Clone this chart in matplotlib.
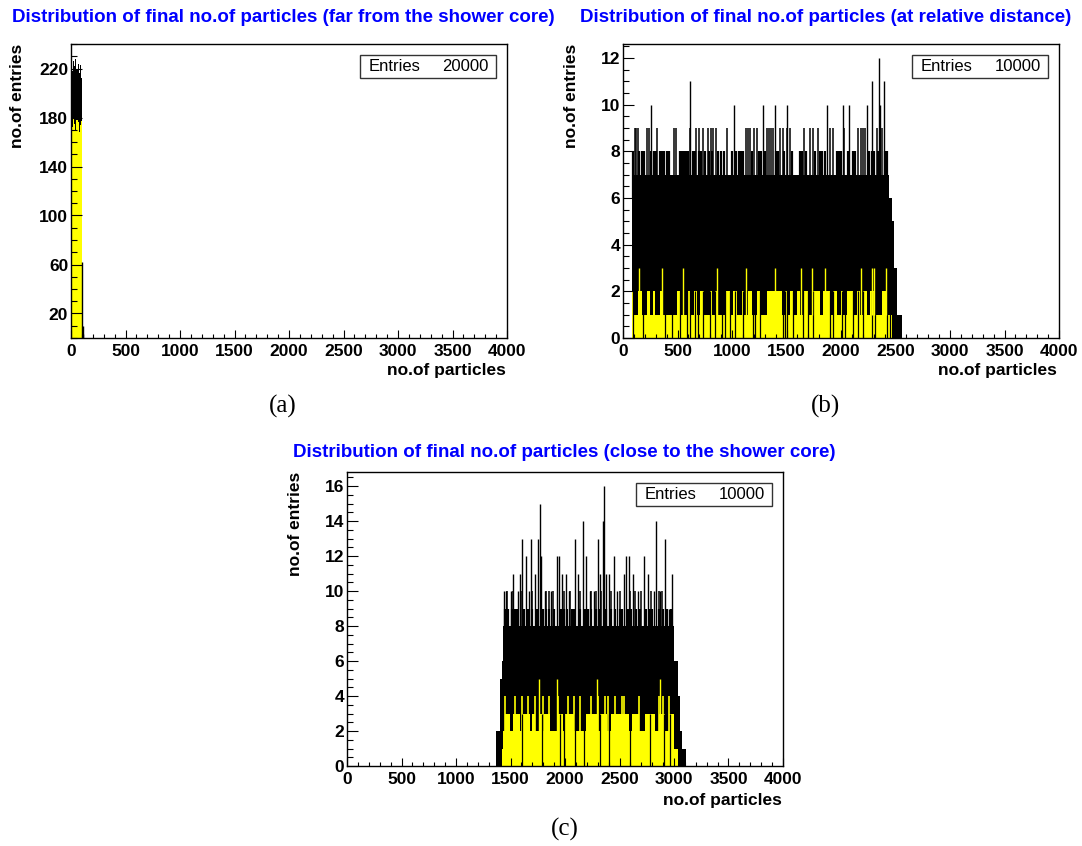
import matplotlib
matplotlib.use('Agg')
import matplotlib.pyplot as plt
from matplotlib.ticker import MultipleLocator, FixedLocator
from matplotlib.patches import Rectangle

plt.rcParams['font.family'] = ['Liberation Sans', 'DejaVu Sans']

YELLOW = '#ffff00'
BLUE = '#0000ff'

titles = ['Distribution of final no.of particles (far from the shower core)',
          'Distribution of final no.of particles (at relative distance)',
          'Distribution of final no.of particles (close to the shower core)']
letters = ['(a)', '(b)', '(c)']
entries = [20000, 10000, 10000]

# ---- panel (a): far from the shower core (bin groups, lower / upper envelope)
a_edges = [0, 10, 20, 30, 40, 50, 60, 70, 80, 90, 98]
a_lo = [178, 172, 180, 175, 170, 178, 176, 168, 174, 177]
a_hi = [225, 218, 226, 222, 228, 220, 224, 216, 223, 212]
a_tail_x = [100, 106, 112]
a_tail_h = [62, 10, 3]

# ---- panel (b): at relative distance
b_edges = [80, 180, 280, 380, 480, 580, 680, 780, 880, 980, 1080, 1180, 1280,
           1380, 1480, 1580, 1680, 1780, 1880, 1980, 2080, 2180, 2280, 2380,
           2440, 2470, 2490, 2510, 2560]
b_lo = [1, 1, 1, 1, 1, 1, 1, 1, 1, 1, 1, 1, 1, 1, 1, 1, 1, 1, 1, 1, 1, 1, 1, 1,
        1, 0, 0, 0]
b_hi = [7, 7, 7, 7, 7, 7, 7, 7, 7, 7, 7, 7, 7, 7, 7, 7, 7, 7, 7, 7, 7, 7, 7, 7,
        6, 5, 3, 1]
b8_x = [95, 150, 170, 190, 260, 280, 300, 340, 360, 380, 400, 420, 520, 540,
        560, 580, 600, 640, 660, 700, 720, 750, 790, 820, 870, 900, 930, 1000,
        1040, 1060, 1080, 1100, 1180, 1250, 1270, 1300, 1400, 1420, 1480, 1550,
        1620, 1640, 1680, 1760, 1810, 1830, 1850, 1960, 1980, 2000, 2060, 2110,
        2130, 2260, 2280, 2300, 2340, 2400, 2420]
b9_x = [107, 122, 134, 220, 241, 315, 468, 488, 611, 672, 699, 733, 780, 809,
        830, 849, 957, 1130, 1150, 1166, 1203, 1227, 1319, 1343, 1362, 1380,
        1441, 1465, 1500, 1530, 1661, 1716, 1740, 1792, 1900, 1930, 2030, 2158,
        2183, 2204, 2220, 2326, 2375]
b_peak_x = [254, 615, 1014, 1282, 1390, 1508, 1875, 2020, 2075, 2236, 2285,
            2349, 2362, 2392]
b_peak_h = [10, 11, 10, 10, 10, 10, 10, 10, 10, 10, 11, 12, 10, 11]
b_y2_start = [82, 137, 220, 275, 342, 495, 592, 647, 708, 794, 846, 946, 1007,
              1090, 1151, 1227, 1319, 1487, 1533, 1594, 1661, 1746, 1838, 1929,
              1997, 2052, 2143, 2204, 2265, 2372]
b_y2_end = [98, 174, 250, 290, 360, 525, 617, 678, 739, 815, 876, 983, 1044,
            1111, 1181, 1258, 1456, 1502, 1563, 1624, 1701, 1807, 1899, 1960,
            2021, 2113, 2174, 2235, 2311, 2418]
b_y3_x = [150, 360, 553, 860, 1125, 1394, 1633, 1734, 1850, 2182, 2285, 2305,
          2412]
b_zero_x = [95, 187, 385, 446, 523, 590, 615, 660, 691, 737, 798, 844, 905,
            936, 982, 1027, 1104, 1190, 1211, 1257, 1471, 1489, 1501, 1563,
            1654, 1700, 1746, 1899, 1930, 2006, 2037, 2113, 2159, 2205, 2281,
            2312, 2419, 2450]

# ---- panel (c): close to the shower core
c_edges = [1370, 1405, 1420, 1432, 1500, 1600, 1700, 1800, 1900, 2000, 2100,
           2200, 2300, 2400, 2500, 2600, 2700, 2800, 2900, 2960, 3000, 3025,
           3040, 3055, 3070, 3113]
c_lo = [0, 0, 1, 2, 2, 2, 2, 2, 2, 2, 2, 2, 2, 2, 2, 2, 2, 2, 2, 2, 1, 1, 0, 0, 0]
c_hi = [2, 5, 6, 8, 8, 8, 8, 8, 8, 8, 8, 8, 8, 8, 8, 8, 8, 8, 8, 8, 6, 6, 4, 2, 1]
c9_x = [1450, 1480, 1510, 1540, 1560, 1620, 1660, 1700, 1740, 1800, 1830, 1850,
        1900, 1960, 1990, 2020, 2060, 2080, 2140, 2180, 2210, 2240, 2280, 2310,
        2380, 2420, 2460, 2500, 2520, 2580, 2610, 2650, 2690, 2740, 2780, 2800,
        2860, 2900, 2940, 2970]
c10_x = [1470, 1520, 1610, 1700, 1830, 1855, 1890, 1990, 2050, 2140, 2240,
         2280, 2330, 2420, 2500, 2600, 2640, 2700, 2790, 2860, 2890]
c_peak_x = [1442, 1457, 1500, 1527, 1567, 1589, 1604, 1644, 1671, 1690, 1723,
            1748, 1772, 1781, 1818, 1876, 1925, 1944, 1968, 2005, 2039, 2094,
            2118, 2161, 2195, 2226, 2262, 2302, 2323, 2348, 2354, 2372, 2400,
            2446, 2476, 2541, 2562, 2590, 2623, 2672, 2721, 2764, 2813, 2838,
            2874, 2914, 2951, 2981, 3032]
c_peak_h = [10, 10, 10, 11, 10, 11, 13, 12, 10, 13, 11, 13, 15, 12, 10, 10, 12,
            12, 11, 11, 10, 13, 11, 14, 12, 10, 10, 13, 11, 14, 16, 11, 11, 12,
            10, 11, 12, 12, 11, 10, 12, 11, 10, 14, 10, 13, 9, 11, 7]
c_y3_start = [1450, 1525, 1610, 1700, 1760, 1810, 1925, 2002, 2190, 2323, 2420,
              2614, 2737, 2859, 2951]
c_y3_end = [1500, 1590, 1680, 1726, 1800, 1864, 1986, 2078, 2293, 2385, 2584,
            2675, 2828, 2920, 2997]
c_y4_x = [1451, 1545, 1603, 1658, 1723, 1800, 1855, 1937, 2023, 2081, 2136,
          2234, 2305, 2366, 2397, 2458, 2520, 2545, 2680, 2860, 2900, 2950]
c_y5_x = [1760, 1925, 2293, 2874]
c_zero_x = [1604, 1790, 1956, 1987, 2094, 2170, 2323, 2400, 2598, 2782, 2904,
            2966]

W, H = 1082, 846
fig = plt.figure(figsize=(W / 100, H / 100), dpi=100)


def px_axes(left, top, right, bottom):
    return fig.add_axes([left / W, 1 - bottom / H, (right - left) / W,
                         (bottom - top) / H])


def style(ax, ymax, yticks, yminor, n):
    ax.set_xlim(0, 4000)
    ax.set_ylim(0, ymax)
    ax.xaxis.set_major_locator(MultipleLocator(500))
    ax.xaxis.set_minor_locator(MultipleLocator(100))
    ax.yaxis.set_major_locator(FixedLocator(yticks))
    ax.yaxis.set_minor_locator(MultipleLocator(yminor))
    ax.tick_params(axis='x', which='major', direction='in', length=6, width=0.8,
                   labelsize=12.5, pad=4, top=False)
    ax.tick_params(axis='x', which='minor', direction='in', length=3, width=0.8,
                   top=False)
    ax.tick_params(axis='y', which='major', direction='in', length=8, width=0.8,
                   labelsize=12.5, pad=2, right=False)
    ax.tick_params(axis='y', which='minor', direction='in', length=4, width=0.8,
                   right=False)
    for lab in ax.get_xticklabels() + ax.get_yticklabels():
        lab.set_fontweight('bold')
    for sp in ax.spines.values():
        sp.set_linewidth(1.0)
    ax.set_axisbelow(False)
    box = Rectangle((0.663, 0.884), 0.312, 0.079, transform=ax.transAxes,
                    facecolor='white', edgecolor='#333333', lw=1.0, zorder=5)
    ax.add_patch(box)
    ax.text(0.683, 0.923, 'Entries', transform=ax.transAxes, fontsize=12,
            va='center', ha='left', zorder=6)
    ax.text(0.958, 0.923, str(entries[n]), transform=ax.transAxes,
            fontsize=12, va='center', ha='right', zorder=6)


def draw_band(ax, edges, lo, hi):
    ax.stairs(lo, edges, fill=True, color=YELLOW, lw=0, zorder=1)
    ax.stairs(hi, edges, baseline=lo, fill=True, color='black', lw=0, zorder=1.1)


# (a)
axa = px_axes(71, 44, 507, 338)
draw_band(axa, a_edges, a_lo, a_hi)
axa.vlines(a_tail_x, 0, a_tail_h, color='black', lw=1.0, zorder=1.2)
style(axa, 240, [20, 60, 100, 140, 180, 220], 10, 0)

# (b)
axb = px_axes(623, 44, 1059, 338)
draw_band(axb, b_edges, b_lo, b_hi)
axb.vlines(b8_x, 6, 8, color='black', lw=1.6, zorder=1.2)
axb.vlines(b9_x, 6, 9, color='black', lw=1.1, zorder=1.2)
axb.vlines(b_peak_x, 6, b_peak_h, color='black', lw=1.0, zorder=1.2)
for s, e in zip(b_y2_start, b_y2_end):
    axb.bar(s, 2, width=e - s, align='edge', color=YELLOW, lw=0, zorder=1.3)
axb.vlines(b_zero_x, 0, 2, color='black', lw=0.9, zorder=1.4)
axb.vlines(b_y3_x, 1, 3, color=YELLOW, lw=1.0, zorder=1.5)
style(axb, 12.6, list(range(0, 13, 2)), 0.5, 1)

# (c)
axc = px_axes(347, 472, 783, 766)
draw_band(axc, c_edges, c_lo, c_hi)
axc.vlines(c9_x, 7, 9, color='black', lw=1.6, zorder=1.2)
axc.vlines(c10_x, 7, 10, color='black', lw=1.1, zorder=1.2)
axc.vlines(c_peak_x, 7, c_peak_h, color='black', lw=1.0, zorder=1.2)
for s, e in zip(c_y3_start, c_y3_end):
    axc.bar(s, 3, width=e - s, align='edge', color=YELLOW, lw=0, zorder=1.3)
axc.vlines(c_y4_x, 2, 4, color=YELLOW, lw=1.2, zorder=1.35)
axc.vlines(c_zero_x, 0, 3, color='black', lw=0.9, zorder=1.4)
axc.vlines(c_y5_x, 2, 5, color=YELLOW, lw=1.0, zorder=1.5)
style(axc, 16.8, list(range(0, 17, 2)), 0.5, 2)

# titles, axis titles, panel letters
for (cx, ty), t in zip([(283, 17), (826, 17), (564, 452)], titles):
    fig.text(cx / W, 1 - ty / H, t, color=BLUE, fontsize=13.5,
             fontweight='bold', ha='center', va='center')
for (yx, yt) in [(18, 44), (571, 44), (295, 472)]:
    fig.text(yx / W, 1 - yt / H, 'no.of entries', rotation=90, fontsize=12.5,
             fontweight='bold', ha='center', va='top')
for (xr, xy) in [(506, 370), (1057, 370), (782, 800)]:
    fig.text(xr / W, 1 - xy / H, 'no.of particles', fontsize=12.5,
             fontweight='bold', ha='right', va='center')
for (lx, ly), t in zip([(283, 406), (826, 406), (565, 829)], letters):
    fig.text(lx / W, 1 - ly / H, t, fontsize=18, family='Liberation Serif',
             ha='center', va='center')

fig.savefig('out.png', dpi=100)
